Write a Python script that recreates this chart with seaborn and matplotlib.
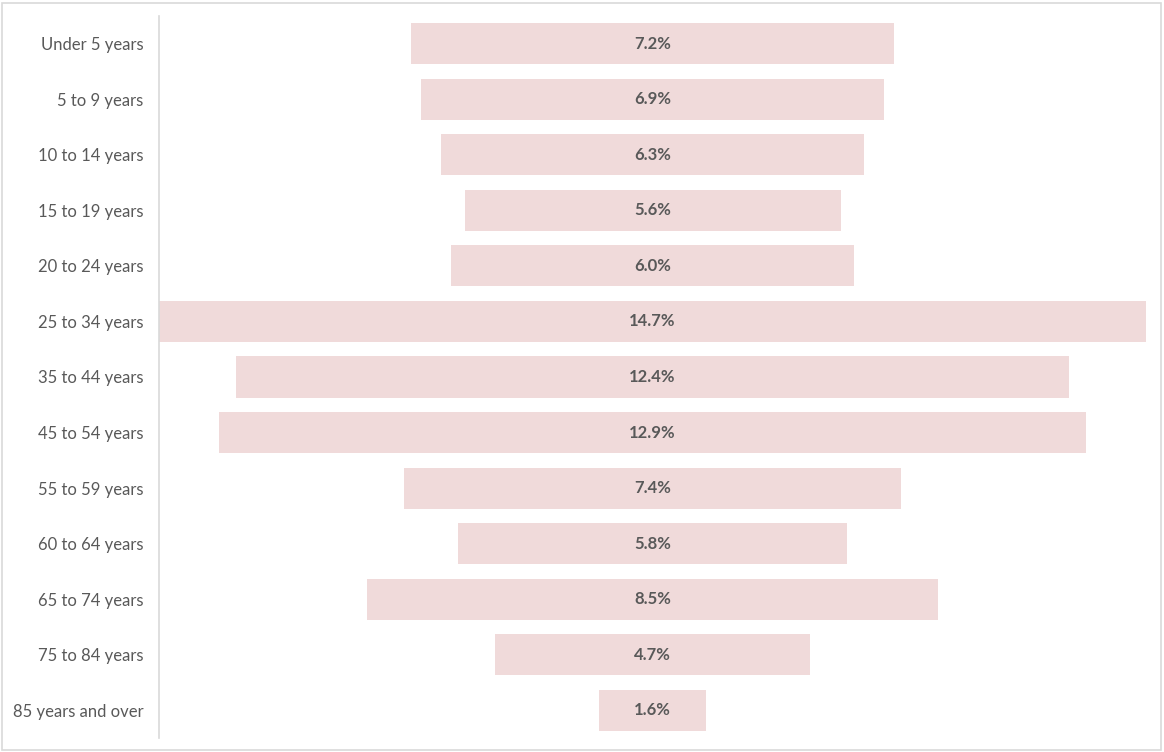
import numpy as np
import pandas as pd
import matplotlib
matplotlib.use("Agg")
import matplotlib.pyplot as plt
import matplotlib.patches as mpatches
import seaborn as sns

categories = ["Under 5 years", "5 to 9 years", "10 to 14 years", "15 to 19 years",
              "20 to 24 years", "25 to 34 years", "35 to 44 years", "45 to 54 years",
              "55 to 59 years", "60 to 64 years", "65 to 74 years", "75 to 84 years",
              "85 years and over"]
values = [7.2, 6.9, 6.3, 5.6, 6.0, 14.7, 12.4, 12.9, 7.4, 5.8, 8.5, 4.7, 1.6]
labels = [f"{v:.1f}%" for v in values]

sns.set_theme(style="white")
plt.rcParams['font.family'] = ['Lato', 'DejaVu Sans']

bar_color = "#F0DADA"
text_color = "#595959"

df = pd.DataFrame({"cat": categories, "half": np.array(values) / 2})
df["neg"] = -df["half"]

fig = plt.figure(figsize=(11.64, 7.52), dpi=100)
ax = fig.add_axes([159 / 1164, 14 / 752, (1146 - 159) / 1164, (737 - 15) / 752])

sns.barplot(data=df, y="cat", x="half", color=bar_color, saturation=1, width=0.74,
            orient="h", ax=ax, linewidth=0)
sns.barplot(data=df, y="cat", x="neg", color=bar_color, saturation=1, width=0.74,
            orient="h", ax=ax, linewidth=0)
for p in ax.patches:
    p.set_antialiased(False)

m = max(values) / 2
ax.set_xlim(-m, m)
ax.set_ylim(len(categories) - 0.5, -0.5)

for i, lab in enumerate(labels):
    ax.text(0, i, lab, ha="center", va="center", color=text_color,
            fontsize=12, fontweight="bold")

ax.set_xlabel("")
ax.set_ylabel("")
ax.set_xticks([])
ax.tick_params(axis="y", length=0, pad=11, labelsize=12, labelcolor=text_color)
for s in ["top", "right", "bottom"]:
    ax.spines[s].set_visible(False)
ax.spines["left"].set_color("#D9D9D9")
ax.spines["left"].set_linewidth(1.2)

fig.patches.append(mpatches.Rectangle((2 / 1164, 2 / 752), 1 - 5 / 1164, 1 - 5 / 752,
                                      transform=fig.transFigure, fill=False,
                                      edgecolor="#D9D9D9", linewidth=1.2))

fig.savefig("out.png", dpi=100, facecolor="white")
